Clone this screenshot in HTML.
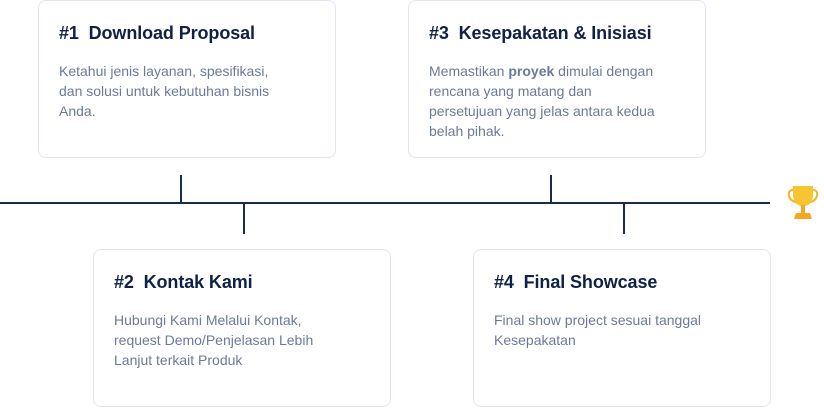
<!DOCTYPE html>
<html><head><style>
body{margin:0;width:824px;height:409px;background:#fff;position:relative;overflow:hidden;font-family:"Liberation Sans",sans-serif}
.b{position:absolute;width:298px;height:158px;border:1px solid #ebdff2;border-radius:8px;box-sizing:border-box;background:#fff}
.t{position:absolute;left:20px;top:22px;font-size:18px;font-weight:bold;color:#0f2148;white-space:nowrap;letter-spacing:-0.1px}
.d{position:absolute;left:20px;top:60px;width:260px;font-size:14px;line-height:20px;color:#6b7a99;white-space:nowrap}
.l{position:absolute;background:#1a2b4c}
</style></head><body>
<div class="b" style="left:38px;top:0px"><div class="t">#1&nbsp; Download Proposal</div><div class="d">Ketahui jenis layanan, spesifikasi,<br>dan solusi untuk kebutuhan bisnis<br>Anda.</div></div>
<div class="b" style="left:408px;top:0px"><div class="t">#3&nbsp; Kesepakatan &amp; Inisiasi</div><div class="d">Memastikan <b>proyek</b> dimulai dengan<br>rencana yang matang dan<br>persetujuan yang jelas antara kedua<br>belah pihak.</div></div>
<div class="b" style="left:93px;top:249px"><div class="t">#2&nbsp; Kontak Kami</div><div class="d">Hubungi Kami Melalui Kontak,<br>request Demo/Penjelasan Lebih<br>Lanjut terkait Produk</div></div>
<div class="b" style="left:473px;top:249px"><div class="t">#4&nbsp; Final Showcase</div><div class="d">Final show project sesuai tanggal<br>Kesepakatan</div></div>
<div class="l" style="left:0;top:202px;width:770px;height:2px"></div>
<div class="l" style="left:180px;top:175px;width:2px;height:28px"></div>
<div class="l" style="left:550px;top:175px;width:2px;height:28px"></div>
<div class="l" style="left:243px;top:203px;width:2px;height:31px"></div>
<div class="l" style="left:623px;top:203px;width:2px;height:31px"></div>
<svg style="position:absolute;left:787px;top:184px" width="32" height="38" viewBox="0 0 32 38">
<path d="M6 6 Q1 6 2 12 Q4 18 10 18" fill="none" stroke="#f2b62b" stroke-width="2"/>
<path d="M26 6 Q31 6 30 12 Q28 18 22 18" fill="none" stroke="#f2b62b" stroke-width="2"/>
<path d="M6 2 H26 V10 Q26 22 16 22 Q6 22 6 10Z" fill="#f7c531"/>
<rect x="14" y="21" width="4" height="8" fill="#f2a91f"/>
<path d="M9 29 H23 L25 35 H7Z" fill="#f5a623"/>
</svg>
</body></html>
